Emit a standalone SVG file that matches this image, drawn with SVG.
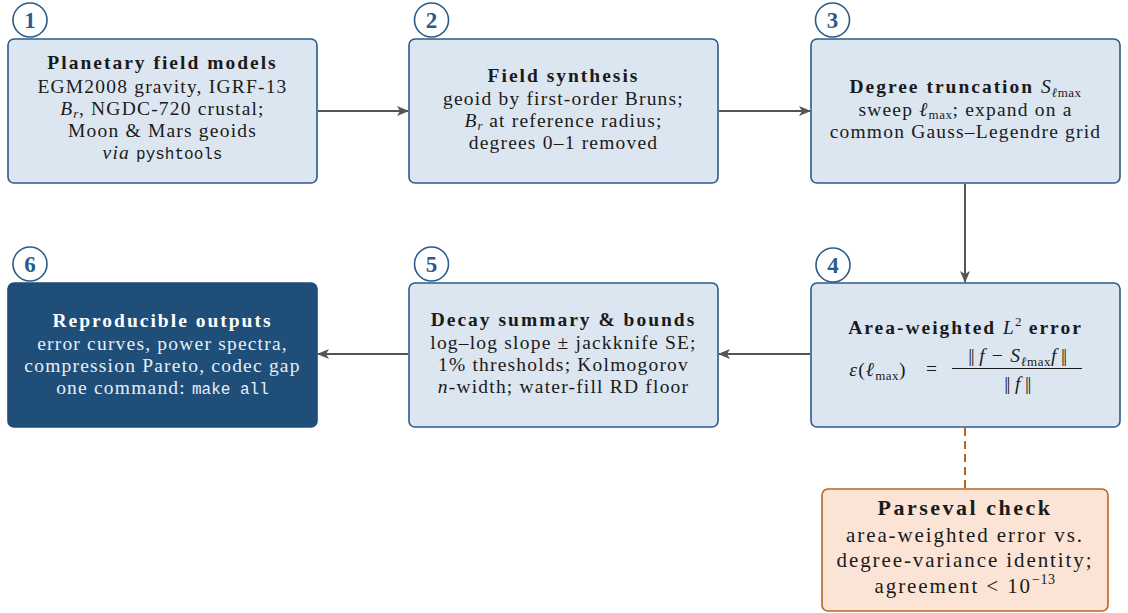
<svg xmlns="http://www.w3.org/2000/svg" width="1128" height="613" viewBox="0 0 1128 613">
<style>
.box{fill:#dce6f1;stroke:#2b5b8a;stroke-width:1.6}
.dark{fill:#1f4e79;stroke:#1f4e79;stroke-width:1.6}
.chk{fill:#fbe4d5;stroke:#b9651f;stroke-width:1.6}
.badge{fill:#fff;stroke:#2b5b8a;stroke-width:1.6}
.num{font-family:"Liberation Serif",serif;font-weight:bold;font-size:23px;fill:#2b5b8a;text-anchor:middle}
.t{font-family:"Liberation Serif",serif;font-size:19.5px;letter-spacing:1.2px;fill:#1a1a1a;text-anchor:middle}
.h{font-weight:bold;letter-spacing:2px}
.w{fill:#e6eef7}
.hw{fill:#ffffff}
.m{font-family:"Liberation Mono",monospace;font-size:16px;letter-spacing:0px}
.i{font-style:italic}
.n{font-weight:normal;letter-spacing:1px}
.s{font-size:13px;letter-spacing:0.5px}
.bar{letter-spacing:-1.5px}
.conn{stroke:#555;stroke-width:2;fill:none}
.dash{stroke:#b9651f;stroke-width:2;fill:none;stroke-dasharray:8 5}
.pb{font-size:21px;letter-spacing:1.9px}
.ph{font-size:22px;letter-spacing:2.5px}
</style>
<defs>
<marker id="ah" viewBox="0 0 12 10" refX="11" refY="5" markerWidth="12" markerHeight="10" markerUnits="userSpaceOnUse" orient="auto">
<path d="M0,0 L12,5 L0,10 L3,5 Z" fill="#555"/>
</marker>
</defs>

<g id="connectors">
<line class="conn" x1="318" y1="111" x2="408" y2="111" marker-end="url(#ah)"/>
<line class="conn" x1="719" y1="111" x2="810" y2="111" marker-end="url(#ah)"/>
<line class="conn" x1="965" y1="184" x2="965" y2="282" marker-end="url(#ah)"/>
<line class="conn" x1="810" y1="354" x2="719" y2="354" marker-end="url(#ah)"/>
<line class="conn" x1="408" y1="354" x2="318" y2="354" marker-end="url(#ah)"/>
<line class="dash" x1="965" y1="428" x2="965" y2="488"/>
</g>

<g id="node1">
<rect class="box" x="8" y="39" width="309" height="144" rx="6"/>
<text class="t h" x="162.5" y="69">Planetary field models</text>
<text class="t" x="162.5" y="93">EGM2008 gravity, IGRF-13</text>
<text class="t" x="162.5" y="115"><tspan class="i">B</tspan><tspan class="s i" dy="3">r</tspan><tspan dy="-3">, NGDC-720 crustal;</tspan></text>
<text class="t" x="162.5" y="137">Moon &amp; Mars geoids</text>
<text class="t" x="162.5" y="159"><tspan class="i">via</tspan> <tspan class="m">pyshtools</tspan></text>
<circle class="badge" cx="30" cy="20" r="17"/>
<text class="num" x="30" y="28">1</text>
</g>

<g id="node2">
<rect class="box" x="409" y="39" width="309" height="144" rx="6"/>
<text class="t h" x="563.5" y="82">Field synthesis</text>
<text class="t" x="563.5" y="105">geoid by first-order Bruns;</text>
<text class="t" x="563.5" y="127"><tspan class="i">B</tspan><tspan class="s i" dy="3">r</tspan><tspan dy="-3"> at reference radius;</tspan></text>
<text class="t" x="563.5" y="149">degrees 0–1 removed</text>
<circle class="badge" cx="431.5" cy="20" r="17"/>
<text class="num" x="431.5" y="28">2</text>
</g>

<g id="node3">
<rect class="box" x="811" y="39" width="309" height="144" rx="6"/>
<text class="t h" x="965.5" y="93">Degree truncation <tspan class="i n">S</tspan><tspan class="i s n" dy="4">ℓ</tspan><tspan class="s n">max</tspan></text>
<text class="t" x="965.5" y="116">sweep <tspan class="i">ℓ</tspan><tspan class="s" dy="3">max</tspan><tspan dy="-3">; expand on a</tspan></text>
<text class="t" x="965.5" y="138">common Gauss–Legendre grid</text>
<circle class="badge" cx="832.5" cy="20" r="17"/>
<text class="num" x="832.5" y="28">3</text>
</g>

<g id="node4">
<rect class="box" x="811" y="283" width="309" height="144" rx="6"/>
<text class="t h" x="965.5" y="334">Area-weighted <tspan class="i n">L</tspan><tspan class="s n" dy="-8">2</tspan><tspan dy="8"> error</tspan></text>
<text class="t" x="878" y="376"><tspan class="i">ε</tspan>(<tspan class="i">ℓ</tspan><tspan class="s" dy="4">max</tspan><tspan dy="-4">)</tspan></text>
<text class="t" x="932" y="375">=</text>
<line x1="952" y1="368.5" x2="1082" y2="368.5" stroke="#1a1a1a" stroke-width="1"/>
<text class="t" x="1017" y="362"><tspan class="bar">||</tspan><tspan class="i"> f</tspan> − <tspan class="i">S</tspan><tspan class="i s" dy="4">ℓ</tspan><tspan class="s">max</tspan><tspan class="i" dy="-4">f</tspan><tspan class="bar"> ||</tspan></text>
<text class="t" x="1017" y="390"><tspan class="bar">||</tspan><tspan class="i"> f</tspan><tspan class="bar"> ||</tspan></text>
<circle class="badge" cx="833" cy="265" r="17"/>
<text class="num" x="833" y="273">4</text>
</g>

<g id="node5">
<rect class="box" x="409" y="283" width="309" height="144" rx="6"/>
<text class="t h" x="563.5" y="326">Decay summary &amp; bounds</text>
<text class="t" x="563.5" y="349">log–log slope ± jackknife SE;</text>
<text class="t" x="563.5" y="371">1% thresholds; Kolmogorov</text>
<text class="t" x="563.5" y="393"><tspan class="i">n</tspan>-width; water-fill RD floor</text>
<circle class="badge" cx="431.5" cy="264" r="17"/>
<text class="num" x="431.5" y="272">5</text>
</g>

<g id="node6">
<rect class="dark" x="8" y="283" width="309" height="144" rx="6"/>
<text class="t h hw" x="162.5" y="327">Reproducible outputs</text>
<text class="t w" x="162.5" y="350">error curves, power spectra,</text>
<text class="t w" x="162.5" y="372">compression Pareto, codec gap</text>
<text class="t w" x="162.5" y="394">one command: <tspan class="m">make all</tspan></text>
<circle class="badge" cx="30" cy="264" r="17"/>
<text class="num" x="30" y="272">6</text>
</g>

<g id="parseval">
<rect class="chk" x="822" y="489" width="286" height="122" rx="6"/>
<text class="t h ph" x="965" y="515">Parseval check</text>
<text class="t pb" x="965" y="542">area-weighted error vs.</text>
<text class="t pb" x="965" y="567">degree-variance identity;</text>
<text class="t pb" x="965" y="593">agreement &lt; 10<tspan font-size="14px" letter-spacing="0.5px" dy="-9">−13</tspan></text>
</g>
</svg>
